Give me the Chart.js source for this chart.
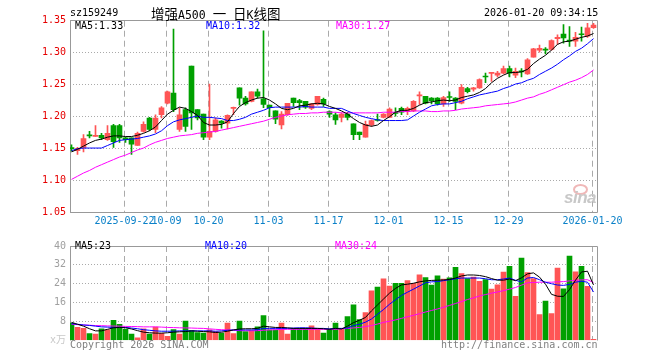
<!DOCTYPE html>
<html lang="zh-CN">
<head>
<meta charset="utf-8">
<title>增强A500 日K线图</title>
<script src="https://cdn.jsdelivr.net/npm/chart.js@4.4.1/dist/chart.umd.min.js"></script>
<style>
  html, body { margin:0; padding:0; background:#fff; }
  #stage { position:relative; width:660px; height:360px; overflow:hidden; background:#fff; }
  #stage canvas { position:absolute; left:0; }
  .txt { position:absolute; font-family:'DejaVu Sans Mono', monospace; font-size:10px; line-height:12px; white-space:pre; }
  .mono { font-family:'DejaVu Sans Mono', monospace; font-size:11.5px; }
</style>
</head>
<body>
<div id="stage">
  <canvas id="priceChart" width="660" height="236" style="top:0;width:660px;height:236px"></canvas>
  <canvas id="volChart" width="660" height="124" style="top:236px;width:660px;height:124px"></canvas>

  <div class="txt" style="left:70px;top:7px;color:#000">sz159249</div>
  <div class="txt" style="left:151px;top:4px;font-family:'Noto Sans CJK SC',sans-serif;font-size:13.5px;line-height:18px;color:#000">增强<span class="mono">A500 </span>一<span class="mono"> </span>日<span class="mono">K</span>线图</div>
  <div class="txt" style="left:484px;top:7px;color:#000">2026-01-20 09:34:15</div>

  <div class="txt" style="left:75px;top:20px;color:#000">MA5:1.33</div>
  <div class="txt" style="left:206px;top:20px;color:#0000ff">MA10:1.32</div>
  <div class="txt" style="left:336px;top:20px;color:#ff00ff">MA30:1.27</div>

  <div class="txt" style="left:75px;top:240px;color:#000">MA5:23</div>
  <div class="txt" style="left:205px;top:240px;color:#0000ff">MA10:20</div>
  <div class="txt" style="left:335px;top:240px;color:#ff00ff">MA30:24</div>

  <div class="txt" style="left:70px;top:339px;color:#808080">Copyright 2026 SINA.COM</div>
  <div class="txt" style="left:441px;top:339px;color:#808080">http://finance.sina.com.cn</div>

  <div style="position:absolute;left:573px;top:184px;width:11px;height:7px;border:2px solid #f0b8b8;border-radius:50%"></div>
  <div class="txt" style="left:564px;top:189px;font-family:'Liberation Sans',sans-serif;font-size:17px;line-height:18px;font-weight:bold;font-style:italic;color:#c8c8c8;letter-spacing:-0.5px">sina</div>
</div>

<script>
// ---------------- data ----------------
const dates = [
 '2025-09-09','2025-09-10','2025-09-11','2025-09-12','2025-09-15','2025-09-16','2025-09-17','2025-09-18','2025-09-19','2025-09-22','2025-09-23','2025-09-24','2025-09-25','2025-09-26','2025-09-29','2025-09-30',
 '2025-10-09','2025-10-10','2025-10-13','2025-10-14','2025-10-15','2025-10-16','2025-10-17','2025-10-20','2025-10-21','2025-10-22','2025-10-23','2025-10-24','2025-10-27','2025-10-28','2025-10-29','2025-10-30','2025-10-31',
 '2025-11-03','2025-11-04','2025-11-05','2025-11-06','2025-11-07','2025-11-10','2025-11-11','2025-11-12','2025-11-13','2025-11-14','2025-11-17','2025-11-18','2025-11-19','2025-11-20','2025-11-21','2025-11-24','2025-11-25','2025-11-26','2025-11-27','2025-11-28',
 '2025-12-01','2025-12-02','2025-12-03','2025-12-04','2025-12-05','2025-12-08','2025-12-09','2025-12-10','2025-12-11','2025-12-12','2025-12-15','2025-12-16','2025-12-17','2025-12-18','2025-12-19','2025-12-22','2025-12-23','2025-12-24','2025-12-25','2025-12-26','2025-12-29','2025-12-30','2025-12-31',
 '2026-01-05','2026-01-06','2026-01-07','2026-01-08','2026-01-09','2026-01-12','2026-01-13','2026-01-14','2026-01-15','2026-01-16','2026-01-19','2026-01-20'
];

const tickDates  = ['2025-09-22','2025-10-09','2025-10-20','2025-11-03','2025-11-17','2025-12-01','2025-12-15','2025-12-29','2026-01-20'];
const tickLabels = ['2025-09-22','10-09','10-20','11-03','11-17','12-01','12-15','12-29','2026-01-20'];
const priceTicks = [1.05, 1.10, 1.15, 1.20, 1.25, 1.30, 1.35];
const volumeTicks = [0, 8, 16, 24, 32, 40];

const opens = [
 1.1505,1.147,1.152,1.1705,1.169,1.171,1.164,1.186,1.186,1.167,
 1.167,1.155,1.177,1.198,1.180,1.203,1.221,1.237,1.180,1.211,
 1.279,1.211,1.204,1.168,1.177,1.193,1.190,1.213,1.245,1.229,
 1.224,1.239,1.228,1.218,1.209,1.187,1.203,1.229,1.225,1.224,
 1.213,1.219,1.227,1.208,1.203,1.199,1.204,1.189,1.176,1.168,
 1.187,1.195,1.199,1.199,1.207,1.213,1.208,1.209,1.2325,1.232,
 1.229,1.229,1.220,1.2305,1.229,1.221,1.244,1.243,1.245,1.2625,
 1.2677,1.265,1.268,1.275,1.265,1.2705,1.267,1.293,1.304,1.3045,
 1.305,1.322,1.329,1.3185,1.318,1.3285,1.326,1.339
];
const closes = [
 1.150,1.150,1.166,1.170,1.171,1.167,1.174,1.161,1.167,1.164,
 1.157,1.174,1.188,1.180,1.198,1.214,1.239,1.211,1.203,1.185,
 1.206,1.198,1.168,1.177,1.195,1.190,1.202,1.214,1.229,1.220,
 1.239,1.232,1.219,1.214,1.196,1.204,1.221,1.222,1.222,1.215,
 1.220,1.232,1.220,1.204,1.195,1.204,1.199,1.172,1.172,1.188,
 1.194,1.194,1.204,1.212,1.205,1.207,1.213,1.224,1.233,1.221,
 1.225,1.220,1.230,1.230,1.224,1.246,1.239,1.245,1.258,1.262,
 1.2683,1.268,1.275,1.268,1.271,1.270,1.289,1.306,1.307,1.304,
 1.319,1.324,1.323,1.318,1.324,1.328,1.339,1.343
];
const highs = [
 1.156,1.152,1.172,1.177,1.186,1.174,1.186,1.188,1.188,1.168,
 1.167,1.176,1.192,1.199,1.203,1.216,1.240,1.337,1.214,1.214,
 1.279,1.211,1.204,1.251,1.198,1.194,1.203,1.215,1.245,1.232,
 1.239,1.243,1.334,1.218,1.209,1.208,1.221,1.229,1.227,1.224,
 1.221,1.232,1.229,1.209,1.206,1.206,1.207,1.189,1.176,1.193,
 1.195,1.204,1.205,1.214,1.214,1.215,1.215,1.225,1.239,1.232,
 1.230,1.230,1.232,1.239,1.230,1.250,1.246,1.246,1.259,1.268,
 1.2685,1.271,1.279,1.279,1.276,1.275,1.291,1.307,1.312,1.308,
 1.320,1.328,1.344,1.341,1.332,1.340,1.346,1.346
];
const lows = [
 1.146,1.141,1.145,1.167,1.169,1.164,1.163,1.152,1.160,1.160,
 1.141,1.155,1.176,1.178,1.175,1.198,1.220,1.208,1.177,1.177,
 1.180,1.195,1.164,1.164,1.176,1.182,1.181,1.203,1.218,1.218,
 1.223,1.229,1.214,1.200,1.189,1.181,1.202,1.216,1.211,1.213,
 1.211,1.218,1.216,1.199,1.188,1.192,1.195,1.164,1.164,1.168,
 1.185,1.193,1.198,1.199,1.201,1.203,1.203,1.208,1.219,1.220,
 1.220,1.218,1.216,1.224,1.211,1.220,1.237,1.240,1.244,1.253,
 1.255,1.262,1.267,1.262,1.261,1.262,1.266,1.293,1.301,1.298,
 1.304,1.313,1.315,1.310,1.310,1.318,1.324,1.338
];
const volumes = [
 7.3,5.45,5.05,2.8,2.65,4.9,4.4,8.5,6.8,4.65,
 2.65,1.05,4.9,2.65,5.6,3.0,1.7,4.5,2.65,8.1,
 4.1,3.3,3.05,4.4,3.7,3.05,7.3,2.9,8.1,3.7,
 4.1,5.7,10.5,4.4,4.4,7.3,2.65,5.05,5.05,5.05,
 6.1,5.05,3.05,4.9,7.3,5.05,10.1,15.0,8.8,11.8,
 21.0,22.6,26.1,23.0,24.2,24.2,25.3,24.2,27.8,26.6,
 23.4,27.3,26.0,26.5,31.0,28.3,26.2,26.8,25.0,25.8,
 21.7,23.5,28.9,31.4,18.6,34.9,28.7,26.2,10.9,16.6,
 11.3,30.6,21.8,35.7,29.0,31.4,22.9,0.4
];
const ma5 = [
 1.145,1.149,1.154,1.159,1.163,1.165,1.168,1.170,1.170,1.169,
 1.169,1.171,1.174,1.178,1.184,1.194,1.204,1.210,1.215,1.213,
 1.208,1.202,1.191,1.187,1.187,1.188,1.192,1.205,1.216,1.222,
 1.226,1.229,1.230,1.226,1.220,1.213,1.211,1.213,1.217,1.218,
 1.220,1.221,1.220,1.216,1.213,1.209,1.204,1.197,1.191,1.187,
 1.185,1.187,1.194,1.200,1.207,1.210,1.210,1.213,1.218,1.222,
 1.223,1.225,1.226,1.225,1.226,1.230,1.232,1.234,1.238,1.244,
 1.253,1.260,1.265,1.269,1.269,1.270,1.274,1.283,1.290,1.296,
 1.304,1.313,1.317,1.318,1.321,1.324,1.326,1.330
];
const ma10 = [
 1.147,1.150,1.151,1.151,1.151,1.151,1.155,1.159,1.163,1.164,
 1.165,1.166,1.168,1.170,1.173,1.178,1.186,1.192,1.195,1.197,
 1.199,1.201,1.199,1.199,1.198,1.197,1.194,1.194,1.196,1.199,
 1.204,1.207,1.210,1.214,1.215,1.215,1.215,1.215,1.215,1.216,
 1.215,1.215,1.215,1.213,1.213,1.213,1.209,1.205,1.202,1.199,
 1.197,1.195,1.194,1.194,1.194,1.194,1.195,1.201,1.207,1.212,
 1.217,1.219,1.220,1.220,1.222,1.224,1.228,1.231,1.234,1.236,
 1.238,1.240,1.244,1.247,1.251,1.253,1.257,1.260,1.266,1.271,
 1.276,1.282,1.289,1.295,1.302,1.307,1.314,1.322
];
const ma30 = [
 1.102,1.107,1.112,1.116,1.121,1.125,1.129,1.133,1.137,1.140,
 1.144,1.148,1.151,1.156,1.160,1.163,1.166,1.168,1.170,1.171,
 1.172,1.174,1.175,1.176,1.177,1.179,1.181,1.183,1.185,1.187,
 1.189,1.191,1.193,1.196,1.199,1.201,1.203,1.204,1.205,1.205,
 1.206,1.206,1.207,1.207,1.207,1.206,1.206,1.206,1.206,1.206,
 1.206,1.206,1.207,1.207,1.207,1.208,1.208,1.209,1.209,1.209,
 1.208,1.208,1.209,1.209,1.210,1.212,1.213,1.214,1.215,1.217,
 1.218,1.219,1.220,1.221,1.223,1.226,1.229,1.231,1.235,1.238,
 1.242,1.246,1.250,1.254,1.257,1.261,1.266,1.273
];
const volMa5 = [
 7.6,6.8,6.0,4.9,4.0,4.0,4.65,5.3,5.45,5.3,
 4.8,4.1,3.45,3.2,3.05,3.05,3.2,3.45,3.6,3.7,
 4.0,3.85,3.7,3.6,3.3,3.45,3.85,4.4,4.8,4.9,
 4.9,5.05,6.0,5.7,5.45,5.45,5.3,5.05,5.05,5.05,
 5.05,5.05,4.9,4.65,5.05,4.8,6.0,7.5,8.5,9.7,
 12.5,15.0,17.5,20.0,22.0,23.5,23.8,24.2,24.8,25.2,
 25.4,25.5,25.6,25.8,26.4,27.3,27.7,27.7,27.5,27.0,
 26.2,25.5,25.5,26.0,25.3,26.5,28.2,28.6,26.8,23.8,
 19.5,18.7,18.6,21.5,25.5,29.0,29.3,23.5
];
const volMa10 = [
 7.05,6.8,6.5,6.3,6.0,5.7,5.6,5.45,5.45,5.45,
 5.2,4.9,4.5,4.25,4.0,3.85,3.85,3.85,4.0,4.0,
 4.0,4.0,4.0,4.0,3.85,4.0,4.25,4.4,4.4,4.4,
 4.4,4.5,5.05,5.05,5.05,5.05,5.05,5.2,5.3,5.3,
 5.2,5.05,5.05,4.8,5.05,5.05,5.2,6.25,6.8,7.7,
 9.05,11.05,13.05,15.3,17.2,19.05,20.4,21.7,23.05,24.4,
 24.8,24.9,25.3,25.7,26.1,26.4,26.4,26.4,26.4,26.1,
 25.7,25.7,26.0,26.4,25.45,24.8,26.4,26.65,25.7,24.65,
 24.0,23.45,23.3,23.7,24.65,25.05,24.65,20.5
];
const volMa30 = [
 6.8,6.65,6.5,6.4,6.25,6.2,6.1,6.05,6.0,5.9,
 5.85,5.8,5.7,5.7,5.7,5.6,5.45,5.4,5.3,5.25,
 5.2,5.1,5.05,4.85,4.65,4.5,4.4,4.25,4.1,4.05,
 4.0,4.1,4.25,4.4,4.5,4.6,4.65,4.65,4.65,4.65,
 4.65,4.65,4.65,4.65,4.65,4.85,5.05,5.25,5.45,5.85,
 6.25,6.9,7.6,8.1,8.65,9.3,10.0,10.6,11.3,12.0,
 12.65,13.3,14.0,14.8,15.6,16.4,17.3,18.0,18.8,19.4,
 20.0,20.5,21.05,21.7,22.4,23.4,24.4,24.5,24.65,24.65,
 24.65,24.8,24.9,25.2,25.45,25.6,25.7,24.5
];

// ---------------- styling ----------------
const UP = '#ff5555', DOWN = '#00a000';
const GRID = '#aaaaaa', FRAME = '#999999';
const MONO = "'DejaVu Sans Mono', 'Noto Sans CJK SC', monospace";
const X_MIN = -0.25, X_MAX = dates.length - 0.25;
const candleColors = closes.map((c, i) => c > opens[i] ? UP : DOWN);
const tickPositions = tickDates.map(d => dates.indexOf(d) - 0.17);
const pts = arr => arr.map((v, i) => ({ x: i, y: v }));

Chart.defaults.font.family = MONO;
Chart.defaults.font.size = 10;

const framePlugin = {
  id: 'frame',
  beforeDatasetsDraw(chart, args, opts) {
    const { ctx, chartArea: a } = chart;
    const l = Math.floor(a.left) + 0.5, r = Math.floor(a.right) - 0.5;
    const t = Math.floor(a.top) + 0.5, b = Math.floor(a.bottom) + 0.5;
    ctx.save();
    ctx.strokeStyle = opts.color || FRAME;
    ctx.lineWidth = 1;
    ctx.setLineDash([]);
    ctx.beginPath();
    ctx.moveTo(l, b); ctx.lineTo(l, t); ctx.lineTo(r, t); ctx.lineTo(r, b);
    if (opts.bottom) { ctx.moveTo(l, b); ctx.lineTo(r, b); }
    ctx.stroke();
    ctx.restore();
  }
};

function xScale(showLabels, height) {
  return {
    type: 'linear', min: X_MIN, max: X_MAX, offset: false,
    afterBuildTicks: s => { s.ticks = tickPositions.map(v => ({ value: v })); },
    afterFit: s => { s.height = height; },
    ticks: {
      display: showLabels, autoSkip: false, maxRotation: 0, minRotation: 0, padding: 2.5,
      color: '#0a80c8', font: { family: MONO, size: 10 },
      callback: (v, i) => tickLabels[i]
    },
    grid: { color: GRID, lineWidth: 1, drawTicks: false, offset: false },
    border: { display: false, dash: [6, 4] }
  };
}

const lineDs = (label, data, color) => ({
  type: 'line', label, data: pts(data), borderColor: color, backgroundColor: color,
  borderWidth: 1, pointRadius: 0, tension: 0, order: 0
});

// ---------------- price chart ----------------
new Chart(document.getElementById('priceChart'), {
  type: 'bar',
  data: {
    datasets: [
      { label: 'wick', data: dates.map((d, i) => ({ x: i, y: [lows[i], highs[i]] })),
        backgroundColor: candleColors, barThickness: 1, minBarLength: 1, order: 2 },
      { label: 'body', data: dates.map((d, i) => ({ x: i, y: [opens[i], closes[i]] })),
        backgroundColor: candleColors, barThickness: 5, minBarLength: 1, order: 1 },
      lineDs('MA5', ma5, '#000000'),
      lineDs('MA10', ma10, '#0000ff'),
      lineDs('MA30', ma30, '#ff00ff')
    ]
  },
  options: {
    responsive: false, animation: false, events: [],
    datasets: { bar: { grouped: false, borderWidth: 0 } },
    layout: { padding: { left: 0, right: 62, top: 20.7, bottom: 0 } },
    plugins: { legend: { display: false }, tooltip: { enabled: false }, frame: { color: FRAME, bottom: true } },
    scales: {
      x: xScale(true, 23.3),
      y: {
        type: 'linear', min: 1.05, max: 1.35, beginAtZero: false,
        afterBuildTicks: s => { s.ticks = priceTicks.map(v => ({ value: v })); },
        afterFit: s => { s.width = 70; },
        ticks: { padding: 4, color: '#e60000', font: { family: MONO, size: 10 }, callback: v => v.toFixed(2) },
        grid: { color: GRID, drawTicks: false },
        border: { display: false, dash: [1, 2] }
      }
    }
  },
  plugins: [framePlugin]
});

// ---------------- volume chart ----------------
new Chart(document.getElementById('volChart'), {
  type: 'bar',
  data: {
    datasets: [
      { label: 'volume', data: pts(volumes), backgroundColor: candleColors, barThickness: 5, order: 1 },
      lineDs('MA5', volMa5, '#000000'),
      lineDs('MA10', volMa10, '#0000ff'),
      lineDs('MA30', volMa30, '#ff00ff')
    ]
  },
  options: {
    responsive: false, animation: false, events: [],
    datasets: { bar: { grouped: false, borderWidth: 0 } },
    layout: { padding: { left: 0, right: 62, top: 4.3, bottom: 19.7 } },
    plugins: { legend: { display: false }, tooltip: { enabled: false }, frame: { color: FRAME, bottom: false } },
    scales: {
      x: xScale(false, 0),
      y: {
        type: 'linear', min: 0, max: 40, beginAtZero: true,
        afterBuildTicks: s => { s.ticks = volumeTicks.map(v => ({ value: v })); },
        afterFit: s => { s.width = 70; },
        ticks: {
          padding: 4, font: { family: MONO, size: 10 },
          color: c => (c.tick && c.tick.value === 0) ? '#c8c8c8' : '#a0a0a0',
          callback: v => v === 0 ? 'x万' : String(v)
        },
        grid: { color: c => (c.tick && c.tick.value === 0) ? 'rgba(0,0,0,0)' : GRID, drawTicks: false },
        border: { display: false, dash: [1, 2] }
      }
    }
  },
  plugins: [framePlugin]
});
</script>
</body>
</html>
